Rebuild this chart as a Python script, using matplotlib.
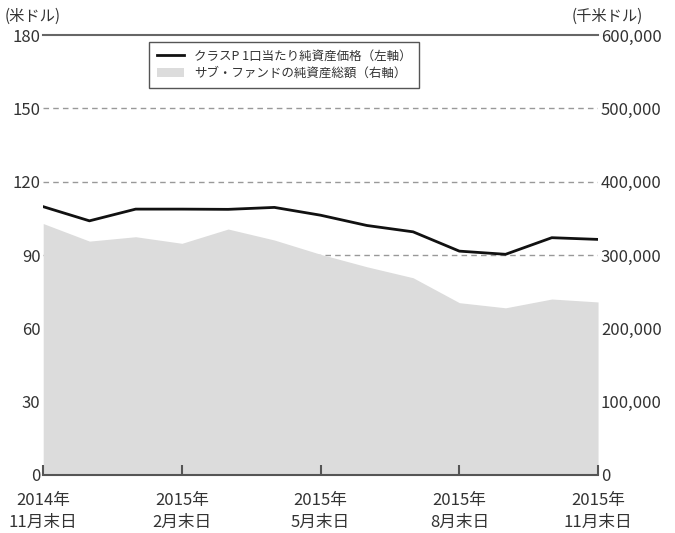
import matplotlib.pyplot as plt
import numpy as np
from matplotlib.patches import Patch

plt.rcParams['font.family'] = ['Noto Sans CJK JP', 'DejaVu Sans']

# month-end points, 2014/11 .. 2015/11
months = np.arange(13)
tick_pos = [0, 3, 6, 9, 12]
tick_labels = ['2014年\n11月末日', '2015年\n2月末日', '2015年\n5月末日', '2015年\n8月末日', '2015年\n11月末日']

# NAV per share, class P (USD, left axis)
nav = [109.8, 104.0, 108.8, 108.8, 108.7, 109.5, 106.3, 102.1, 99.5, 91.6, 90.3, 97.1, 96.4]
# sub-fund net assets (thousand USD, right axis)
assets = [343000, 319000, 325000, 316000, 335500, 320500, 301000, 284000, 269000, 235000, 228000, 240000, 236000]

txt = '#333333'
fig = plt.figure(figsize=(6.75, 5.33), dpi=100)
ax = fig.add_axes([0.064, 0.109, 0.822, 0.825])
ax2 = ax.twinx()

ax2.fill_between(months, assets, 0, color='#dcdcdc', lw=0, zorder=2)
ax2.set_ylim(0, 600000)
ax2.set_yticks([0, 100000, 200000, 300000, 400000, 500000, 600000])
ax2.set_yticklabels(['0', '100,000', '200,000', '300,000', '400,000', '500,000', '600,000'])

ax.set_ylim(0, 180)
ax.set_xlim(0, 12)
ax.set_yticks([0, 30, 60, 90, 120, 150, 180])
ax.set_zorder(ax2.get_zorder() + 1)
ax.patch.set_visible(False)

# dashed grid drawn under the area on the right axes
for v in [90, 120, 150]:
    ax2.axhline(v / 180 * 600000, color='#999999', lw=1, ls=(0, (4, 3)), zorder=1)
ax2.axhline(600000, color='#666666', lw=1.5, zorder=1, clip_on=False)

ln, = ax.plot(months, nav, color='#111111', lw=2, zorder=5)

ax.set_xticks(tick_pos)
ax.set_xticklabels(tick_labels, fontsize=12, color=txt, linespacing=1.45)
for a in (ax, ax2):
    for s in ['top', 'left', 'right', 'bottom']:
        a.spines[s].set_visible(False)
ax.spines['bottom'].set_visible(True)
ax.spines['bottom'].set_color('#555555')
ax.spines['bottom'].set_linewidth(1.5)
ax.tick_params(axis='x', direction='in', length=7, width=1.5, color='#555555', pad=12)
ax.tick_params(axis='y', length=0, labelsize=12, labelcolor=txt, pad=2)
ax2.tick_params(axis='y', length=0, labelsize=12, labelcolor=txt, pad=2)

fig.text(0.007, 0.953, '(米ドル)', fontsize=11, color=txt, ha='left', va='bottom')
fig.text(0.953, 0.953, '(千米ドル)', fontsize=11, color=txt, ha='right', va='bottom')

leg = ax.legend([ln, Patch(facecolor='#dcdcdc', edgecolor='none')],
                ['クラスP 1口当たり純資産価格（左軸）', 'サブ・ファンドの純資産総額（右軸）'],
                loc='upper left', bbox_to_anchor=(0.18, 0.998), fontsize=9,
                fancybox=False, edgecolor='#555555', framealpha=1,
                handlelength=2.2, borderpad=0.6, labelspacing=0.35)
leg.get_frame().set_linewidth(1)
for t in leg.get_texts():
    t.set_color(txt)

plt.savefig('out.png', dpi=100)
